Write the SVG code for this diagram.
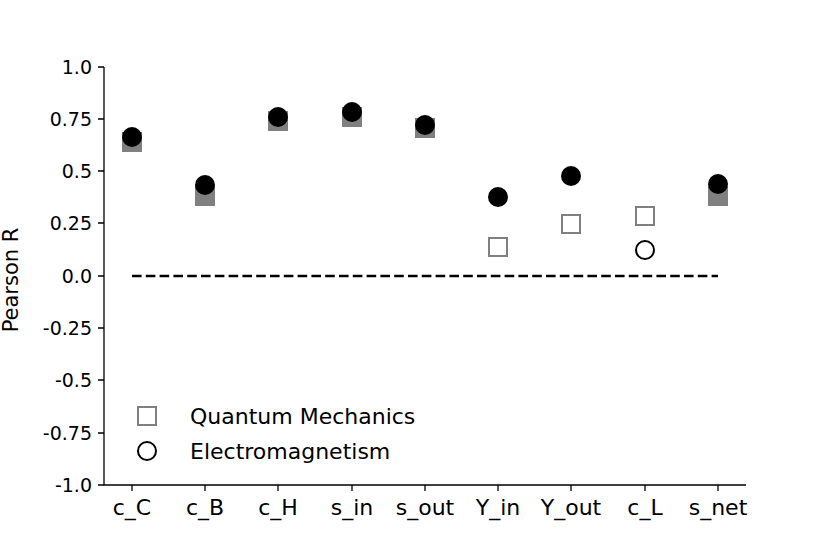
<svg xmlns="http://www.w3.org/2000/svg" width="830" height="554" viewBox="0 0 830 554">
<style>
text{font-family:"DejaVu Sans",sans-serif;font-size:19px;fill:#000}
.yt{text-anchor:end}
.xt{text-anchor:middle;font-size:22px}
.lg{font-size:22px}
.ax{stroke:#000;stroke-width:1.3;fill:none}
.sq{fill:#808080}
.osq{fill:none;stroke:#808080;stroke-width:2}
.ci{fill:#000}
.oci{fill:none;stroke:#000;stroke-width:2}
</style>
<rect width="830" height="554" fill="#fff"/>
<g id="axes">
<path class="ax" d="M104 67V485H746"/>
<path class="ax" d="M98 67H104M98 119H104M98 171H104M98 223H104M98 276H104M98 328H104M98 380H104M98 433H104M98 485H104"/>
<path class="ax" d="M132 485V491M205 485V491M278 485V491M352 485V491M425 485V491M498 485V491M571 485V491M645 485V491M718 485V491"/>
<text class="yt" x="92" y="74">1.0</text>
<text class="yt" x="92" y="126">0.75</text>
<text class="yt" x="92" y="178">0.5</text>
<text class="yt" x="92" y="230">0.25</text>
<text class="yt" x="92" y="283">0.0</text>
<text class="yt" x="92" y="335">-0.25</text>
<text class="yt" x="92" y="387">-0.5</text>
<text class="yt" x="92" y="440">-0.75</text>
<text class="yt" x="92" y="492">-1.0</text>
<text class="xt" x="132" y="515">c_C</text>
<text class="xt" x="205" y="515">c_B</text>
<text class="xt" x="278" y="515">c_H</text>
<text class="xt" x="352" y="515">s_in</text>
<text class="xt" x="425" y="515">s_out</text>
<text class="xt" x="498" y="515">Y_in</text>
<text class="xt" x="571" y="515">Y_out</text>
<text class="xt" x="645" y="515">c_L</text>
<text class="xt" x="718" y="515">s_net</text>
<text class="xt" style="font-size:21px" transform="translate(18 280) rotate(-90)">Pearson R</text>
</g>
<g id="connectors">
<path d="M132 276H718" stroke="#000" stroke-width="2.6" stroke-dasharray="9.6,4.2"/>
</g>
<g id="squares">
<rect class="sq" x="122" y="132" width="20" height="20"/>
<rect class="sq" x="195" y="186" width="20" height="20"/>
<rect class="sq" x="268" y="111" width="20" height="20"/>
<rect class="sq" x="342" y="107" width="20" height="20"/>
<rect class="sq" x="415" y="118" width="20" height="20"/>
<rect class="osq" x="489" y="238" width="18" height="18"/>
<rect class="osq" x="562" y="215" width="18" height="18"/>
<rect class="osq" x="636" y="207" width="18" height="18"/>
<rect class="sq" x="708" y="186" width="20" height="20"/>
</g>
<g id="circles">
<circle class="ci" cx="132" cy="137" r="10"/>
<circle class="ci" cx="205" cy="185" r="10"/>
<circle class="ci" cx="278" cy="117" r="10"/>
<circle class="ci" cx="352" cy="112" r="10"/>
<circle class="ci" cx="425" cy="125" r="10"/>
<circle class="ci" cx="498" cy="197" r="10"/>
<circle class="ci" cx="571" cy="176" r="10"/>
<circle class="oci" cx="645" cy="250" r="9"/>
<circle class="ci" cx="718" cy="184" r="10"/>
</g>
<g id="legend">
<rect class="osq" x="138" y="407" width="18" height="18"/>
<text class="lg" x="190" y="424">Quantum Mechanics</text>
<circle class="oci" cx="147" cy="451" r="9"/>
<text class="lg" x="190" y="459">Electromagnetism</text>
</g>
</svg>
